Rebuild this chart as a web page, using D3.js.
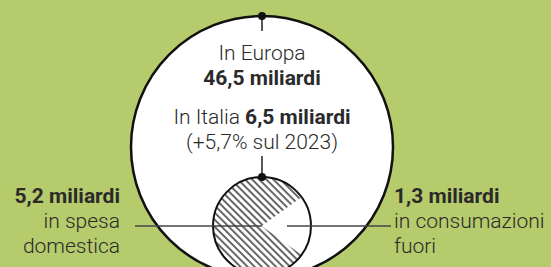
<!DOCTYPE html>
<html>
<head>
<meta charset="utf-8">
<script src="https://cdn.jsdelivr.net/npm/d3@7"></script>
<style>
  body { margin: 0; background: #b6cb6b; }
  svg text { font-family: Roboto, sans-serif; fill: #2a2a2a; }
</style>
</head>
<body>
<div id="chart"></div>
<script>
// totals in miliardi
var totalLabels = ["In Europa", "In Italia"];
var totals = [46.5, 6.5];
// split of the Italian total
var categories = ["in spesa domestica", "in consumazioni fuori"];
var values = [5.2, 1.3];
var valueLabels = ["5,2 miliardi", "1,3 miliardi"];
var growthLabel = "(+5,7% sul 2023)";

var w = 551, h = 267;
var cx = 262;
var fs = 21;

var svg = d3.select("#chart").append("svg")
    .attr("width", w)
    .attr("height", h);

// hatch pattern for the domestic slice
var defs = svg.append("defs");
defs.append("pattern")
    .attr("id", "hatch")
    .attr("patternUnits", "userSpaceOnUse")
    .attr("width", 5)
    .attr("height", 5)
    .attr("patternTransform", "rotate(-45)")
  .append("line")
    .attr("x1", 1).attr("y1", 0)
    .attr("x2", 1).attr("y2", 5)
    .attr("stroke", "#333")
    .attr("stroke-width", 1.5);

// circle area proportional to value
var r = d3.scaleSqrt().domain([0, totals[0]]).range([0, 131]);

var bigR = r(totals[0]);
var bigY = 16 + bigR;
var smallR = r(totals[1]);
var smallY = 226;

// big circle (Europe)
svg.append("circle")
    .attr("cx", cx).attr("cy", bigY).attr("r", bigR)
    .attr("fill", "#fff")
    .attr("stroke", "#111")
    .attr("stroke-width", 2.5);

// connector lines
svg.append("line")
    .attr("x1", cx).attr("y1", bigY - bigR)
    .attr("x2", cx).attr("y2", bigY - bigR + 15)
    .attr("stroke", "#222").attr("stroke-width", 1.5);
svg.append("line")
    .attr("x1", cx).attr("y1", 156)
    .attr("x2", cx).attr("y2", smallY - smallR)
    .attr("stroke", "#222").attr("stroke-width", 1.5);

// pie for the Italian split
var pie = d3.pie().sort(null)
    .startAngle(Math.PI / 2 + Math.PI * values[1] / d3.sum(values))
    .endAngle(Math.PI / 2 + Math.PI * values[1] / d3.sum(values) + 2 * Math.PI);
var arc = d3.arc().innerRadius(0).outerRadius(smallR);

var g = svg.append("g").attr("transform", "translate(" + cx + "," + smallY + ")");
g.selectAll("path")
    .data(pie(values))
    .enter()
    .append("path")
    .attr("d", arc)
    .attr("fill", function(d, i) { return i === 0 ? "url(#hatch)" : "#fff"; });

// leader lines
svg.append("line")
    .attr("x1", 135).attr("y1", smallY)
    .attr("x2", cx).attr("y2", smallY)
    .attr("stroke", "#444").attr("stroke-width", 1.5);
svg.append("line")
    .attr("x1", 287).attr("y1", smallY)
    .attr("x2", 391).attr("y2", smallY)
    .attr("stroke", "#444").attr("stroke-width", 1.5);

g.append("circle")
    .attr("r", smallR)
    .attr("fill", "none")
    .attr("stroke", "#111")
    .attr("stroke-width", 2);

// dots on top of the circles
svg.append("circle").attr("cx", cx).attr("cy", bigY - bigR).attr("r", 4).attr("fill", "#111");
svg.append("circle").attr("cx", cx).attr("cy", smallY - smallR).attr("r", 4).attr("fill", "#111");

// text inside the big circle
var fmt = function(v) { return String(v).replace(".", ","); };
svg.append("text").attr("x", cx).attr("y", 60).attr("text-anchor", "middle")
    .attr("font-size", fs).attr("font-weight", 300).text(totalLabels[0]);
svg.append("text").attr("x", cx).attr("y", 85).attr("text-anchor", "middle")
    .attr("font-size", fs).attr("font-weight", "bold").text(fmt(totals[0]) + " miliardi");
var it = svg.append("text").attr("x", cx).attr("y", 124).attr("text-anchor", "middle")
    .attr("font-size", fs).attr("font-weight", 300);
it.append("tspan").text(totalLabels[1] + " ");
it.append("tspan").attr("font-weight", "bold").text(fmt(totals[1]) + " miliardi");
svg.append("text").attr("x", cx).attr("y", 149).attr("text-anchor", "middle")
    .attr("font-size", fs).attr("font-weight", 300).text(growthLabel);

// side labels
var sides = [
  { x: 120, anchor: "end", lines: ["in spesa", "domestica"] },
  { x: 394, anchor: "start", lines: ["in consumazioni", "fuori"] }
];
sides.forEach(function(s, i) {
  svg.append("text").attr("x", s.x).attr("y", 203).attr("text-anchor", s.anchor)
      .attr("font-size", fs).attr("font-weight", "bold").text(valueLabels[i]);
  s.lines.forEach(function(t, j) {
    svg.append("text").attr("x", s.x).attr("y", 228 + j * 25).attr("text-anchor", s.anchor)
        .attr("font-size", fs).attr("font-weight", 300).text(t);
  });
});
</script>
</body>
</html>
